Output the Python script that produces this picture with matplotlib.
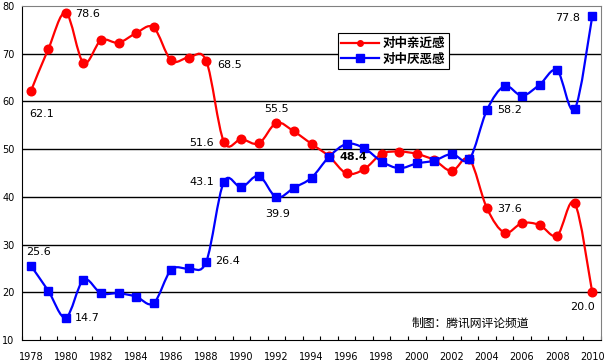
import matplotlib
matplotlib.use('Agg')
import matplotlib.pyplot as plt
from matplotlib.path import Path
from matplotlib.patches import PathPatch
import numpy as np

plt.rcParams['font.family'] = ['DejaVu Sans', 'Noto Sans CJK SC']

years = list(range(1978, 2011))
# 对中亲近感
close = [62.1, 71.0, 78.6, 68.1, 72.8, 72.3, 74.3, 75.5, 68.6, 69.2, 68.5,
         51.6, 52.1, 51.2, 55.5, 53.7, 51.1, 48.5, 44.9, 45.8, 49.0, 49.5,
         49.0, 47.7, 45.4, 47.9, 37.6, 32.5, 34.5, 34.1, 31.9, 38.7, 20.0]
# 对中厌恶感
dislike = [25.6, 20.3, 14.7, 22.6, 19.8, 19.8, 19.1, 17.7, 24.7, 25.0, 26.4,
           43.1, 42.0, 44.4, 39.9, 41.9, 44.0, 48.4, 51.1, 50.2, 47.4, 46.0,
           47.0, 47.6, 49.0, 47.9, 58.2, 63.2, 61.2, 63.5, 66.5, 58.4, 77.8]

series_names = ['对中亲近感', '对中厌恶感']
ylabels = [10, 20, 30, 40, 50, 60, 70, 80]
xlabels = list(range(1978, 2011, 2))

# (series index, year, text, dx px, dy px, ha, bold)
labels = [
    (0, 1978, '62.1', 11, -23, 'center', False),
    (0, 1980, '78.6', 9, -1, 'left', False),
    (0, 1988, '68.5', 11, -4, 'left', False),
    (0, 1989, '51.6', -10, -1, 'right', False),
    (0, 1992, '55.5', 0, 14, 'center', False),
    (1, 1995, '48.4', 10, 0, 'left', True),
    (1, 2004, '58.2', 10, 0, 'left', False),
    (1, 2010, '77.8', -12, -2, 'right', False),
    (0, 2004, '37.6', 10, -1, 'left', False),
    (0, 2010, '20.0', -10, -15, 'center', False),
    (1, 1978, '25.6', 8, 14, 'center', False),
    (1, 1980, '14.7', 9, 0, 'left', False),
    (1, 1989, '43.1', -10, 0, 'right', False),
    (1, 1988, '26.4', 9, 1, 'left', False),
    (1, 1992, '39.9', 1, -17, 'center', False),
]


def smooth_path(x, y):
    # Catmull-Rom style bezier through the data points (like Excel smoothed line)
    pts = np.column_stack([x, y]).astype(float)
    n = len(pts)
    verts = [pts[0]]
    codes = [Path.MOVETO]
    for i in range(n - 1):
        p0 = pts[i - 1] if i > 0 else pts[i]
        p1 = pts[i]
        p2 = pts[i + 1]
        p3 = pts[i + 2] if i + 2 < n else pts[i + 1]
        c1 = p1 + (p2 - p0) / 6.0
        c2 = p2 - (p3 - p1) / 6.0
        verts += [c1, c2, p2]
        codes += [Path.CURVE4] * 3
    return Path(verts, codes)


fig = plt.figure(figsize=(6.08, 3.61), dpi=100, facecolor='white')
ax = fig.add_axes([22 / 608, 1 - 340 / 361, 579 / 608, 334 / 361])

colors = ['#FF0000', '#0000FF']
markers = ['o', 's']
data = [close, dislike]

for k in range(2):
    ax.add_patch(PathPatch(smooth_path(years, data[k]), facecolor='none',
                           edgecolor=colors[k], lw=1.6, zorder=3))
    ax.plot(years, data[k], linestyle='none', marker=markers[k],
            markersize=6.2 if k == 0 else 6.0, color=colors[k], zorder=4)
    # legend proxies
    ax.plot([], [], color=colors[k], lw=1.6, marker=markers[k],
            markersize=4 if k == 0 else 6, label=series_names[k])

for s, yr, txt, dx, dy, ha, bold in labels:
    val = data[s][years.index(yr)]
    ax.annotate(txt, (yr, val), xytext=(dx, dy), textcoords='offset pixels',
                ha=ha, va='center', fontsize=8,
                fontweight='bold' if bold else 'normal', zorder=5)

ax.set_xlim(1977.5, 2010.5)
ax.set_ylim(10, 80)

for v in ylabels[1:-1]:
    ax.axhline(v, color='black', lw=1.0, zorder=1)

ax.set_yticks(ylabels)
ax.set_yticklabels([str(v) for v in ylabels], fontsize=7)
ax.tick_params(axis='y', length=0, pad=5.5)

ax.set_xticks(xlabels)
ax.set_xticklabels([str(v) for v in xlabels], fontsize=7)
ax.tick_params(axis='x', which='major', length=0, pad=9)
ax.set_xticks(np.arange(1977.5, 2011, 1.0), minor=True)
ax.tick_params(axis='x', which='minor', direction='in', length=3, width=0.8)

for side in ['top', 'right']:
    ax.spines[side].set_color('#808080')
for side in ['left', 'bottom']:
    ax.spines[side].set_color('black')

leg = ax.legend(loc='upper left', bbox_to_anchor=(0.545, 0.918),
                prop={'family': 'Noto Sans CJK SC', 'weight': 'bold', 'size': 9},
                frameon=True, fancybox=False, framealpha=1, edgecolor='black',
                handlelength=3.0, borderpad=0.3, labelspacing=0.2,
                handletextpad=0.3, borderaxespad=0)
leg.get_frame().set_linewidth(0.8)
leg.set_zorder(6)

ax.text(0.672, 0.05, '制图：腾讯网评论频道', transform=ax.transAxes,
        family='Noto Sans CJK SC', fontsize=8.5, ha='left', va='center')

fig.savefig('out.png', dpi=100, facecolor='white')
